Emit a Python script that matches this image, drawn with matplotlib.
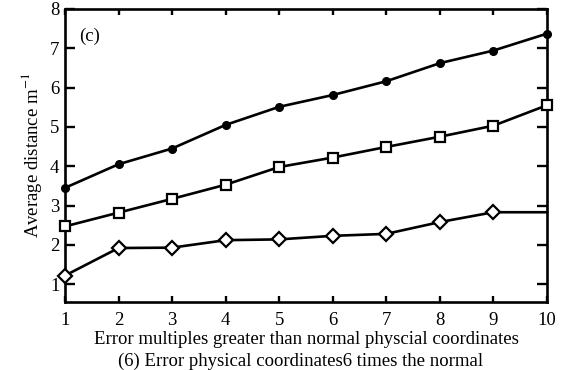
import matplotlib
matplotlib.use("Agg")
import matplotlib.pyplot as plt

plt.rcParams['font.family'] = ['Liberation Serif', 'DejaVu Serif']
plt.rcParams['mathtext.fontset'] = 'stix'

multiples = [1, 2, 3, 4, 5, 6, 7, 8, 9, 10]
series_circle = [3.45, 4.05, 4.45, 5.05, 5.51, 5.81, 6.16, 6.62, 6.94, 7.37]
series_square = [2.47, 2.82, 3.17, 3.53, 3.98, 4.22, 4.49, 4.75, 5.03, 5.55]
series_diamond = [1.22, 1.92, 1.93, 2.12, 2.14, 2.23, 2.28, 2.58, 2.83, 2.83]

FS = 13.5

fig = plt.figure(figsize=(5.67, 3.70), dpi=100)
ax = fig.add_axes([0.1146, 0.184, 0.850, 0.792])

LW = 1.9
ax.plot(multiples, series_circle, color='black', lw=LW, marker='o', ms=5.5,
        mfc='black', mec='black', clip_on=False, zorder=3)
ax.plot(multiples, series_square, color='black', lw=LW, marker='s', ms=7,
        mfc='white', mec='black', mew=1.6, clip_on=False, zorder=3)
ax.plot(multiples, series_diamond, color='black', lw=LW, marker='D', ms=7.5,
        mfc='white', mec='black', mew=1.6, markevery=list(range(9)),
        clip_on=False, zorder=3)

ax.set_xlim(1, 10)
ax.set_ylim(0.55, 8)
ax.set_xticks(multiples)
ax.set_yticks([1, 2, 3, 4, 5, 6, 7, 8])

for s in ax.spines.values():
    s.set_linewidth(1.9)

ax.tick_params(axis='x', direction='in', top=True, bottom=True, length=4.5,
               width=1.7, labelsize=FS, pad=7)
ax.tick_params(axis='y', direction='in', left=True, right=True, length=7,
               width=1.7, labelsize=FS, pad=4)

ax.set_xlabel("Error multiples greater than normal physcial coordinates",
              fontsize=FS, labelpad=2)
ax.set_ylabel("Average distance m$^{-1}$", fontsize=FS, labelpad=4)

ax.text(1.45, 7.3, "(c)", fontsize=FS, ha='center', va='center')

fig.text(0.53, 0.0, "(6) Error physical coordinates6 times the normal",
         fontsize=FS, ha='center', va='bottom')

fig.savefig("out.png", dpi=100, facecolor='white')
